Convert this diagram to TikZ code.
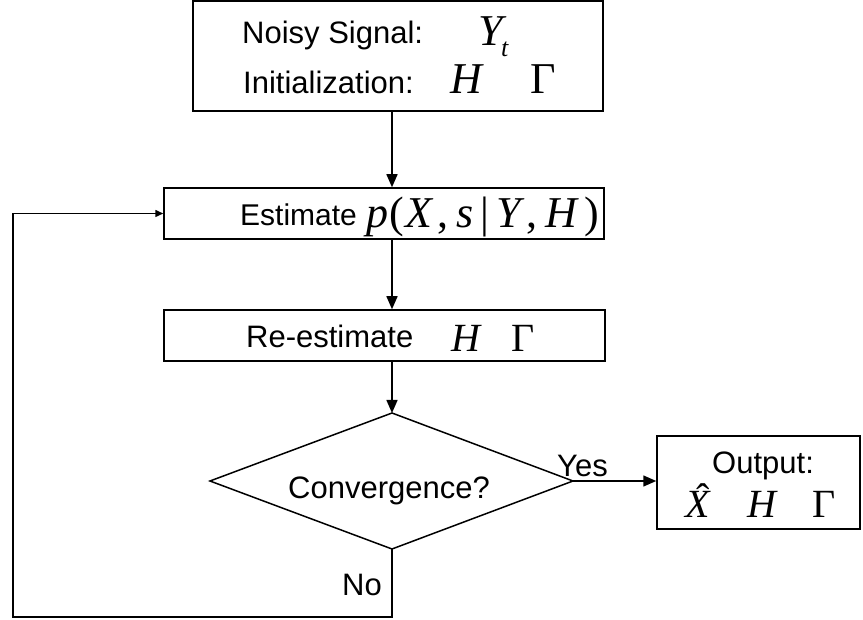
\documentclass[tikz,border=0pt]{standalone}
\usepackage{fontspec}
\setmainfont{Liberation Sans}
\newfontfamily\mathf{Liberation Serif}
\usetikzlibrary{arrows.meta}
\begin{document}
\begin{tikzpicture}[x=1pt,y=-1pt,
  box/.style={draw, line width=1.5pt, inner sep=0, rectangle},
  txt/.style={inner sep=0, anchor=base west, font=\fontsize{31}{34}\selectfont},
  mth/.style={inner sep=0, anchor=base west, font=\fontsize{40}{44}\selectfont\mathf\itshape},
  mthr/.style={inner sep=0, anchor=base west, font=\fontsize{40}{44}\selectfont\mathf},
  conn/.style={line width=1.5pt, -{Triangle[length=13pt,width=11pt]}},
  connsmall/.style={line width=1.5pt, -{Triangle[length=8pt,width=7pt]}}]
\useasboundingbox (0,0) rectangle (863,620);
% boxes
\node[box, minimum width=410pt, minimum height=110pt] (b1) at (398,56) {};
\node[box, minimum width=440pt, minimum height=51pt] (b2) at (384,213.5) {};
\node[box, minimum width=441pt, minimum height=51pt] (b3) at (384.5,335.5) {};
\node[box, minimum width=203pt, minimum height=93pt] (out) at (758.5,482.5) {};
% diamond
\coordinate (dt) at (392,413);
\coordinate (dr) at (573,481);
\coordinate (db) at (392,549);
\coordinate (dl) at (210,481);
\draw[line width=1.5pt, line join=miter] (dt) -- (dr) -- (db) -- (dl) -- cycle;
% texts box 1
\node[txt] (t1) at (242,44) {Noisy Signal:};
\node[mth, font=\fontsize{44}{48}\selectfont\mathf\itshape] (y1) at (478,46) {Y};
\node[mth, font=\fontsize{26}{28}\selectfont\mathf\itshape] (t1s) at (501,57) {t};
\node[txt] (t2) at (243,94) {Initialization:};
\node[mth, font=\fontsize{44}{48}\selectfont\mathf\itshape] (h1) at (450,94) {H};
\node[mthr, font=\fontsize{44}{48}\selectfont\mathf] (g1) at (530,94) {Γ};
% box 2
\node[txt, font=\fontsize{30}{33}\selectfont] (t3) at (240,226) {Estimate};
\node[mthr, font=\fontsize{44}{48}\selectfont\mathf] (pe) at (366,228) {\textit{p}\kern1pt(\kern2pt\textit{X}\kern3pt,\kern8pt\textit{s}\kern7pt|\kern7pt\textit{Y}\kern2pt,\kern8pt\textit{H}\kern5pt)};
% box 3
\node[txt] (t4) at (246,348) {Re-estimate};
\node[mth] (h3) at (451,352) {H};
\node[mthr] (g3) at (511,352) {Γ};
% diamond text
\node[txt] (t5) at (288,498) {Convergence?};
% output
\node[txt] (t6) at (712,474) {Output:};
\node[mth] (xh) at (685,518) {X\llap{\upshape\raisebox{6pt}{ˆ}}};
\node[mth] (h4) at (747,518) {H};
\node[mthr] (g4) at (812,518) {Γ};
% labels
\node[txt] (yes) at (557,477) {Yes};
\node[txt] (no) at (342,595) {No};
% connectors
\draw[conn] (b1.south -| dt) -- (b2.north -| dt);
\draw[conn] (b2.south -| dt) -- (b3.north -| dt);
\draw[conn] (b3.south -| dt) -- (dt);
\draw[conn] (dr) -- (dr -| out.west);
\coordinate (lbr) at (392,617);
\coordinate (lbl) at (13,617);
\draw[connsmall, line join=miter] (db) -- (lbr) -- (lbl) -- (lbl |- b2.west) -- (b2.west);
\end{tikzpicture}
\end{document}
